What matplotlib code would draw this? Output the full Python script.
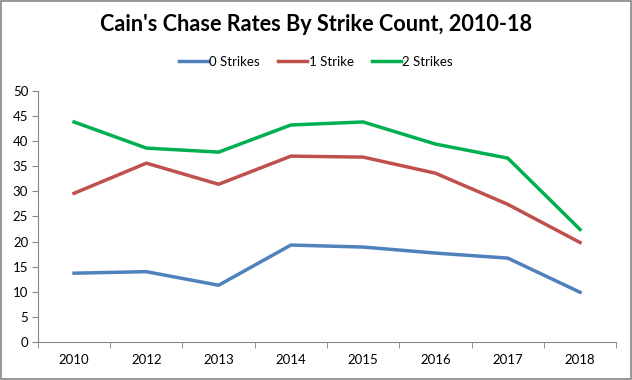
import matplotlib.pyplot as plt
from matplotlib.patches import Rectangle
import numpy as np

plt.rcParams['font.family'] = ['Lato', 'DejaVu Sans']

years = ['2010', '2012', '2013', '2014', '2015', '2016', '2017', '2018']
zero_strikes = [13.7, 14.0, 11.3, 19.3, 18.9, 17.7, 16.7, 9.9]
one_strike = [29.6, 35.6, 31.4, 37.0, 36.8, 33.6, 27.4, 19.8]
two_strikes = [43.8, 38.6, 37.8, 43.2, 43.8, 39.4, 36.6, 22.4]

fig = plt.figure(figsize=(6.32, 3.8), dpi=100)
ax = fig.add_axes([0.060, 0.100, 0.915, 0.661])

x = np.arange(len(years))
ax.plot(x, zero_strikes, color='#4F81BD', lw=2.5, label='0 Strikes')
ax.plot(x, one_strike, color='#C0504D', lw=2.5, label='1 Strike')
ax.plot(x, two_strikes, color='#00B050', lw=2.5, label='2 Strikes')

ax.set_xlim(-0.5, len(years) - 0.5)
ax.set_ylim(0, 50)
ax.set_yticks(range(0, 51, 5))
ax.set_xticks(x)
ax.set_xticklabels(years)
ax.set_xticks(np.arange(-0.5, len(years), 1), minor=True)
ax.tick_params(axis='x', which='major', length=0, pad=9, labelsize=9.5)
ax.tick_params(axis='x', which='minor', length=4, color='#868686', direction='out')
ax.tick_params(axis='y', length=4, color='#868686', direction='out', labelsize=9.5, pad=3)

for s in ['top', 'right']:
    ax.spines[s].set_visible(False)
for s in ['left', 'bottom']:
    ax.spines[s].set_color('#868686')

fig.text(0.5, 0.935, "Cain's Chase Rates By Strike Count, 2010-18",
         ha='center', va='center', fontsize=15.6, fontweight='bold')
ax.legend(loc='center', bbox_to_anchor=(0.5, 0.837), bbox_transform=fig.transFigure,
          ncol=3, frameon=False, fontsize=9.5, handlelength=2.2, handletextpad=0.1,
          columnspacing=1.4)

fig.patches.append(Rectangle((0.001, 0.002), 0.997, 0.995, transform=fig.transFigure,
                             fill=False, edgecolor='#868686', lw=1.2))

fig.savefig('out.png', dpi=100)
